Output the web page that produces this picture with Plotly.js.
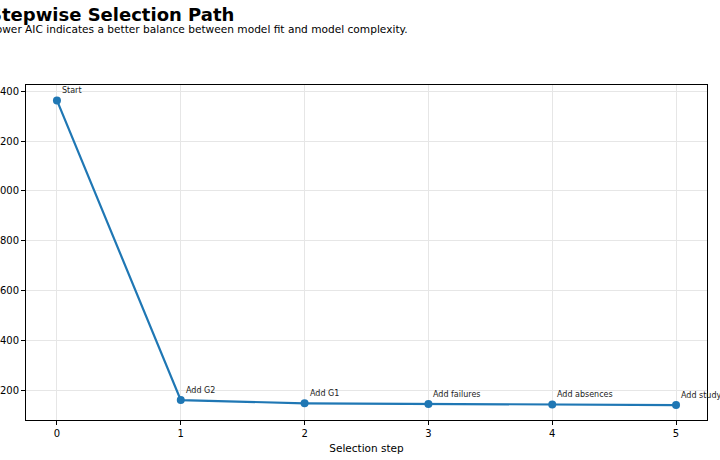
<!DOCTYPE html>
<html>
<head>
<meta charset="utf-8">
<script src="https://cdn.plot.ly/plotly-3.0.1.min.js"></script>
<style>
  html, body { margin: 0; padding: 0; background: #ffffff; }
  #chart { width: 720px; height: 460px; }
</style>
</head>
<body>
<div id="chart"></div>
<script>
// Шаги отбора и значения AIC
const steps = [0, 1, 2, 3, 4, 5];
const aicValues = [1363, 160, 147, 144, 142, 140];
const stepLabels = ["Start", "Add G2", "Add G1", "Add failures", "Add absences", "Add studytime"];

const titleText = "Stepwise Selection Path";
const subtitleText = "Lower AIC indicates a better balance between model fit and model complexity.";
const xTitle = "Selection step";
const yTicks = [200, 400, 600, 800, 1000, 1200, 1400];

const font = "DejaVu Sans, Liberation Sans, sans-serif";
const blue = "#1f77b4";

const path = {
    type: "scatter",
    mode: "lines+markers",
    x: steps,
    y: aicValues,
    line: { color: blue, width: 2.2 },
    marker: { color: blue, size: 8 },
    hoverinfo: "x+y",
    showlegend: false
};

// Подписи у каждой точки
const pointNotes = steps.map((s, i) => ({
    x: s,
    y: aicValues[i],
    xref: "x",
    yref: "y",
    text: stepLabels[i],
    showarrow: false,
    xanchor: "left",
    yanchor: "middle",
    xshift: 3,
    yshift: 10,
    font: { family: font, size: 8, color: "#222" }
}));

const layout = {
    width: 720,
    height: 460,
    margin: { t: 85, b: 40, l: 26, r: 13 },
    paper_bgcolor: "#ffffff",
    plot_bgcolor: "#ffffff",
    font: { family: font, size: 10, color: "#000" },
    xaxis: {
        range: [-0.25, 5.25],
        tickvals: steps,
        ticks: "outside",
        ticklen: 4,
        tickcolor: "#000",
        showgrid: true,
        gridcolor: "#e6e6e6",
        gridwidth: 1,
        zeroline: false,
        showline: true,
        linecolor: "#000",
        linewidth: 1,
        mirror: true,
        tickfont: { family: font, size: 10 },
        title: { text: xTitle, font: { family: font, size: 10.5 }, standoff: 6 }
    },
    yaxis: {
        range: [80, 1425],
        tickvals: yTicks,
        ticks: "outside",
        ticklen: 4,
        tickcolor: "#000",
        showgrid: true,
        gridcolor: "#e6e6e6",
        gridwidth: 1,
        zeroline: false,
        showline: true,
        linecolor: "#000",
        linewidth: 1,
        mirror: true,
        tickfont: { family: font, size: 10 }
    },
    annotations: [
        ...pointNotes,
        {
            xref: "paper", yref: "paper",
            x: -0.0573, y: 1.209,
            xanchor: "left", yanchor: "middle",
            text: "<b>" + titleText + "</b>",
            showarrow: false,
            font: { family: font, size: 18, color: "#000" }
        },
        {
            xref: "paper", yref: "paper",
            x: -0.0564, y: 1.167,
            xanchor: "left", yanchor: "middle",
            text: subtitleText,
            showarrow: false,
            font: { family: font, size: 10.6, color: "#000" }
        }
    ]
};

Plotly.newPlot("chart", [path], layout, { displayModeBar: false, staticPlot: true });
</script>
</body>
</html>
